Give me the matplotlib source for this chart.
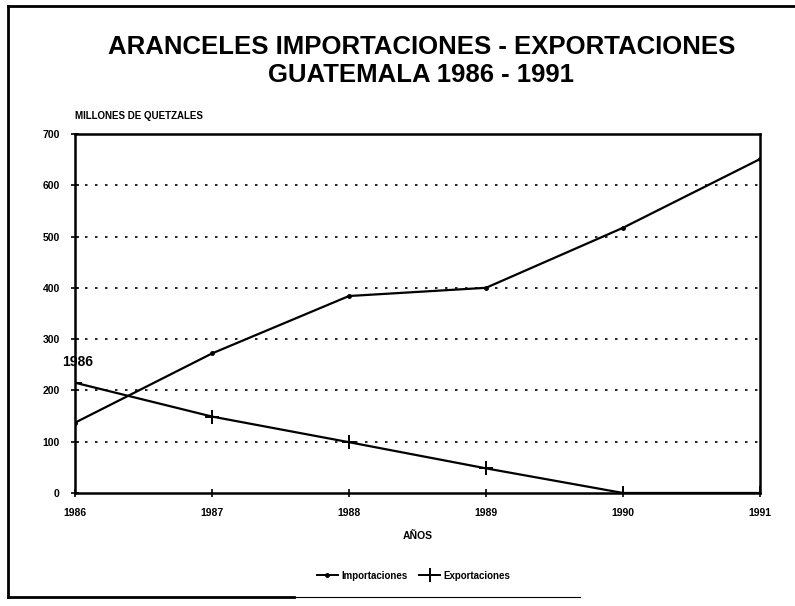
import matplotlib
matplotlib.use("Agg")
import matplotlib.pyplot as plt
from matplotlib.lines import Line2D

years = [1986, 1987, 1988, 1989, 1990, 1991]
importaciones = [137, 272, 384, 400, 517, 651]
exportaciones = [215, 149, 99, 48, 0, 0]
yticks = [0, 100, 200, 300, 400, 500, 600, 700]
ytick_labels = ["0", "100", "200", "300", "400", "500", "600", "700"]

plt.rcParams['font.family'] = ['Liberation Sans', 'DejaVu Sans']

fig = plt.figure(figsize=(7.95, 6.06), dpi=100)
ax = fig.add_axes([0.0943, 0.1865, 0.8617, 0.5925])

ax.plot(years, importaciones, color='black', lw=1.6, marker='o', ms=2.5)
ax.plot(years, exportaciones, color='black', lw=1.6, marker='+', ms=10, mew=1.4)

ax.set_xlim(1986, 1991)
ax.set_ylim(0, 700)
ax.set_yticks(yticks)
ax.set_yticklabels(ytick_labels, fontsize=7.5, fontweight='bold')
ax.set_xticks(years)
ax.set_xticklabels([str(y) for y in years], fontsize=7.5, fontweight='bold')
ax.tick_params(direction='inout', length=6, width=1.2, pad=8)
for s in ax.spines.values():
    s.set_linewidth(1.8)
for y in yticks[1:-1]:
    ax.axhline(y, color='black', lw=1.2, ls=(0, (1.5, 4.5)))

ax.set_xlabel("AÑOS", fontsize=7.5, fontweight='bold', labelpad=9)
fig.text(0.0943, 0.800, "MILLONES DE QUETZALES", fontsize=7, fontweight='bold',
         ha='left', va='bottom')
fig.text(0.530, 0.922, "ARANCELES IMPORTACIONES - EXPORTACIONES", fontsize=18.5,
         ha='center', va='center', fontweight='bold')
fig.text(0.530, 0.877, "GUATEMALA 1986 - 1991", fontsize=18.5,
         ha='center', va='center', fontweight='bold')
fig.text(0.078, 0.402, "1986", fontsize=10, fontweight='bold', ha='left', va='center')

handles = [Line2D([], [], color='black', lw=1.4, marker='o', ms=2.5),
           Line2D([], [], color='black', lw=1.4, marker='+', ms=10, mew=1.4)]
fig.legend(handles, ["Importaciones", "Exportaciones"], loc='center',
           bbox_to_anchor=(0.52, 0.05), ncol=2, frameon=False,
           prop={'size': 7, 'weight': 'bold'}, handlelength=2.2, columnspacing=1.2,
           handletextpad=0.3)

# outer frame
fig.add_artist(Line2D([0.01, 0.01], [0.015, 0.99], color='black', lw=2, transform=fig.transFigure))
fig.add_artist(Line2D([0.01, 1.0], [0.99, 0.99], color='black', lw=2, transform=fig.transFigure))
fig.add_artist(Line2D([0.01, 0.37], [0.015, 0.015], color='black', lw=2, transform=fig.transFigure))
fig.add_artist(Line2D([0.37, 0.73], [0.015, 0.015], color='black', lw=0.8, transform=fig.transFigure))

fig.savefig("out.png", dpi=100)
